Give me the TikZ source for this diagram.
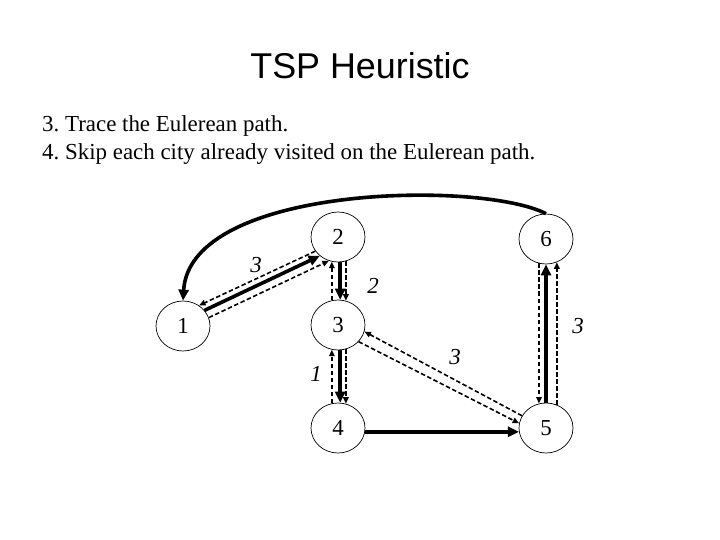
\documentclass[tikz,border=0pt]{standalone}
\usepackage{fontspec}
\setmainfont{Liberation Serif}
\newfontfamily\titlefont{Liberation Sans}
\usetikzlibrary{shapes.geometric,arrows.meta}
\frenchspacing
\begin{document}
\begin{tikzpicture}[x=1bp,y=-1bp,
  city/.style={ellipse,draw,line width=0.7bp,minimum width=54bp,minimum height=50bp,inner sep=0pt,font=\fontsize{23}{23}\selectfont},
  tour/.style={line width=3.6bp,-{Triangle[length=11bp,width=10bp]}},
  walk/.style={line width=1.6bp,dash pattern=on 4.5bp off 2.5bp,-{Triangle[length=6.5bp,width=5.5bp]}},
  wlabel/.style={font=\fontsize{23}{23}\selectfont\itshape},
  txt/.style={font=\fontsize{23}{23}\selectfont,anchor=base west,inner sep=0pt}]
\useasboundingbox (0,0) rectangle (720,540);
% title and text
\node[anchor=base,inner sep=0pt,font=\titlefont\fontsize{36}{36}\selectfont] (title) at (360,79) {TSP Heuristic};
\node[txt] (l1) at (42,132) {3. Trace the Eulerean path.};
\node[txt] (l2) at (42,160) {4. Skip each city already visited on the Eulerean path.};
% cities
\node[city] (n1) at (183,326) {1};
\node[city] (n2) at (338,237) {2};
\node[city] (n3) at (338,325) {3};
\node[city] (n4) at (338,428) {4};
\node[city] (n5) at (546,428) {5};
\node[city] (n6) at (546,239) {6};
% 1-2
\draw[tour] (n1.36) -- (n2.226);
\draw[walk] (n2.212) -- (n1.52);
\draw[walk] (n1.18) -- (n2.249);
% 2-3
\draw[tour] (n2.275) -- (n3.85);
\draw[walk] (n3.104) -- (n2.256);
\draw[walk] (n2.288) -- (n3.72);
% 3-4
\draw[tour] (n3.275) -- (n4.85);
\draw[walk] (n4.104) -- (n3.256);
\draw[walk] (n3.288) -- (n4.72);
% 3-5
\draw[walk] (n5.153) -- (n3.-14);
\draw[walk] (n3.-39) -- (n5.170);
% 4-5
\draw[tour] (n4.-8) -- (n5.188);
% 5-6
\draw[tour] (n5.90) -- (n6.270);
\draw[walk] (n6.254) -- (n5.106);
\draw[walk] (n5.65) -- (n6.295);
% 6-1
\draw[tour] (n6.north) .. controls (480,180) and (190,185) .. (n1.north);
% weights
\node[wlabel] (w12) at (256,265) {3};
\node[wlabel] (w23) at (373,286) {2};
\node[wlabel] (w56) at (578,326) {3};
\node[wlabel] (w34) at (316,374) {1};
\node[wlabel] (w35) at (455,357) {3};
\end{tikzpicture}
\end{document}
